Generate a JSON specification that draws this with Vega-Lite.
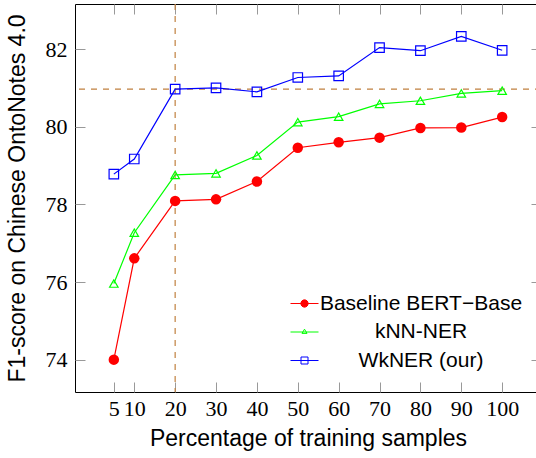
{
  "$schema": "https://vega.github.io/schema/vega-lite/v6.json",
  "width": 466,
  "height": 388,
  "autosize": {"type": "none"},
  "padding": {"left": 75, "top": 4, "right": 0, "bottom": 66},
  "background": "white",
  "config": {
    "view": {"stroke": "#000000", "strokeWidth": 1},
    "axis": {
      "grid": false,
      "domain": false,
      "tickColor": "#999999",
      "tickWidth": 1,
      "tickSize": -10,
      "labelFont": "Liberation Serif",
      "labelFontSize": 22,
      "labelColor": "#000000",
      "labelOverlap": false,
      "titleFont": "Liberation Sans",
      "titleFontSize": 23,
      "titleFontWeight": "normal",
      "titleColor": "#000000"
    }
  },
  "datasets": {
    "scores": [
      {"pct": 5, "f1": 74.0, "method": "Baseline"},
      {"pct": 10, "f1": 76.61, "method": "Baseline"},
      {"pct": 20, "f1": 78.09, "method": "Baseline"},
      {"pct": 30, "f1": 78.13, "method": "Baseline"},
      {"pct": 40, "f1": 78.59, "method": "Baseline"},
      {"pct": 50, "f1": 79.46, "method": "Baseline"},
      {"pct": 60, "f1": 79.6, "method": "Baseline"},
      {"pct": 70, "f1": 79.72, "method": "Baseline"},
      {"pct": 80, "f1": 79.97, "method": "Baseline"},
      {"pct": 90, "f1": 79.98, "method": "Baseline"},
      {"pct": 100, "f1": 80.25, "method": "Baseline"},
      {"pct": 5, "f1": 75.96, "method": "kNN-NER"},
      {"pct": 10, "f1": 77.27, "method": "kNN-NER"},
      {"pct": 20, "f1": 78.76, "method": "kNN-NER"},
      {"pct": 30, "f1": 78.8, "method": "kNN-NER"},
      {"pct": 40, "f1": 79.26, "method": "kNN-NER"},
      {"pct": 50, "f1": 80.12, "method": "kNN-NER"},
      {"pct": 60, "f1": 80.26, "method": "kNN-NER"},
      {"pct": 70, "f1": 80.59, "method": "kNN-NER"},
      {"pct": 80, "f1": 80.67, "method": "kNN-NER"},
      {"pct": 90, "f1": 80.86, "method": "kNN-NER"},
      {"pct": 100, "f1": 80.93, "method": "kNN-NER"},
      {"pct": 5, "f1": 78.78, "method": "WkNER (our)"},
      {"pct": 10, "f1": 79.17, "method": "WkNER (our)"},
      {"pct": 20, "f1": 80.97, "method": "WkNER (our)"},
      {"pct": 30, "f1": 81.0, "method": "WkNER (our)"},
      {"pct": 40, "f1": 80.9, "method": "WkNER (our)"},
      {"pct": 50, "f1": 81.27, "method": "WkNER (our)"},
      {"pct": 60, "f1": 81.31, "method": "WkNER (our)"},
      {"pct": 70, "f1": 82.04, "method": "WkNER (our)"},
      {"pct": 80, "f1": 81.96, "method": "WkNER (our)"},
      {"pct": 90, "f1": 82.33, "method": "WkNER (our)"},
      {"pct": 100, "f1": 81.97, "method": "WkNER (our)"}
    ],
    "refs": [{"pct": 20, "f1": 80.97}]
  },
  "layer": [
    {
      "data": {"name": "refs"},
      "mark": {"type": "rule", "color": "#c0803f", "strokeDash": [6, 6], "strokeWidth": 1.2},
      "encoding": {
        "y": {
          "field": "f1", "type": "quantitative",
          "axis": {"orient": "right", "labels": false, "title": null, "values": [74, 76, 78, 80, 82]}
        }
      }
    },
    {
      "data": {"name": "refs"},
      "mark": {"type": "rule", "color": "#c0803f", "strokeDash": [6, 6], "strokeWidth": 1.2},
      "encoding": {
        "x": {
          "field": "pct", "type": "quantitative",
          "axis": {"orient": "top", "labels": false, "title": null, "values": [5, 10, 20, 30, 40, 50, 60, 70, 80, 90, 100]}
        }
      }
    },
    {
      "data": {"name": "scores"},
      "mark": {"type": "line", "strokeWidth": 1.2},
      "encoding": {
        "x": {
          "field": "pct", "type": "quantitative",
          "scale": {"domain": [-4.5, 109.5], "nice": false, "zero": false},
          "axis": {"orient": "bottom", "title": "Percentage of training samples", "values": [5, 10, 20, 30, 40, 50, 60, 70, 80, 90, 100], "labelPadding": 16, "titlePadding": 8}
        },
        "y": {
          "field": "f1", "type": "quantitative",
          "scale": {"domain": [73.167, 83.163], "nice": false, "zero": false},
          "axis": {"orient": "left", "title": "F1-score on Chinese OntoNotes 4.0", "values": [74, 76, 78, 80, 82], "labelPadding": 18, "titlePadding": 16}
        },
        "color": {
          "field": "method", "type": "nominal",
          "scale": {"domain": ["Baseline", "kNN-NER", "WkNER (our)"], "range": ["#ff0000", "#00ff00", "#0000ff"]},
          "legend": {
            "orient": "none", "legendX": 215, "legendY": 285, "padding": 0, "title": null,
            "symbolSize": 784, "symbolStrokeWidth": 1,
            "labelAlign": "center", "labelOffset": 102, "labelFont": "Liberation Sans", "labelFontSize": 21,
            "labelColor": "#000000", "labelLimit": 400, "rowPadding": 3.5,
            "labelExpr": "datum.value === 'Baseline' ? 'Baseline BERT−Base' : datum.label",
            "encode": {
              "symbols": {
                "update": {
                  "shape": {"signal": "datum.value === 'Baseline' ? 'M-1,0L1,0M-0.26,0A0.26,0.26 0 1,0 0.26,0A0.26,0.26 0 1,0 -0.26,0Z' : datum.value === 'kNN-NER' ? 'M-1,0L1,0M-0.18,0.1L0,-0.2L0.18,0.1Z' : 'M-1,0L1,0M-0.25,-0.25L0.25,-0.25L0.25,0.25L-0.25,0.25Z'"},
                  "fill": {"signal": "datum.value === 'Baseline' ? '#ff0000' : 'transparent'"},
                  "stroke": {"signal": "datum.value === 'Baseline' ? '#ff0000' : datum.value === 'kNN-NER' ? '#00ff00' : '#0000ff'"},
                  "strokeWidth": {"value": 1},
                  "size": {"value": 784}
                }
              }
            }
          }
        }
      }
    },
    {
      "data": {"name": "scores"},
      "transform": [{"filter": "datum.method === 'Baseline'"}],
      "mark": {"type": "point", "shape": "circle", "filled": true, "color": "#ff0000", "size": 110, "opacity": 1},
      "encoding": {
        "x": {"field": "pct", "type": "quantitative", "axis": null},
        "y": {"field": "f1", "type": "quantitative", "axis": null}
      }
    },
    {
      "data": {"name": "scores"},
      "transform": [{"filter": "datum.method === 'kNN-NER'"}],
      "mark": {"type": "point", "shape": "triangle-up", "filled": false, "color": "#00ff00", "size": 72, "strokeWidth": 1.2, "opacity": 1},
      "encoding": {
        "x": {"field": "pct", "type": "quantitative", "axis": null},
        "y": {"field": "f1", "type": "quantitative", "axis": null}
      }
    },
    {
      "data": {"name": "scores"},
      "transform": [{"filter": "datum.method === 'WkNER (our)'"}],
      "mark": {"type": "point", "shape": "square", "filled": false, "color": "#0000ff", "size": 90, "strokeWidth": 1.2, "opacity": 1},
      "encoding": {
        "x": {"field": "pct", "type": "quantitative", "axis": null},
        "y": {"field": "f1", "type": "quantitative", "axis": null}
      }
    }
  ],
  "resolve": {"axis": {"x": "independent", "y": "independent"}}
}
